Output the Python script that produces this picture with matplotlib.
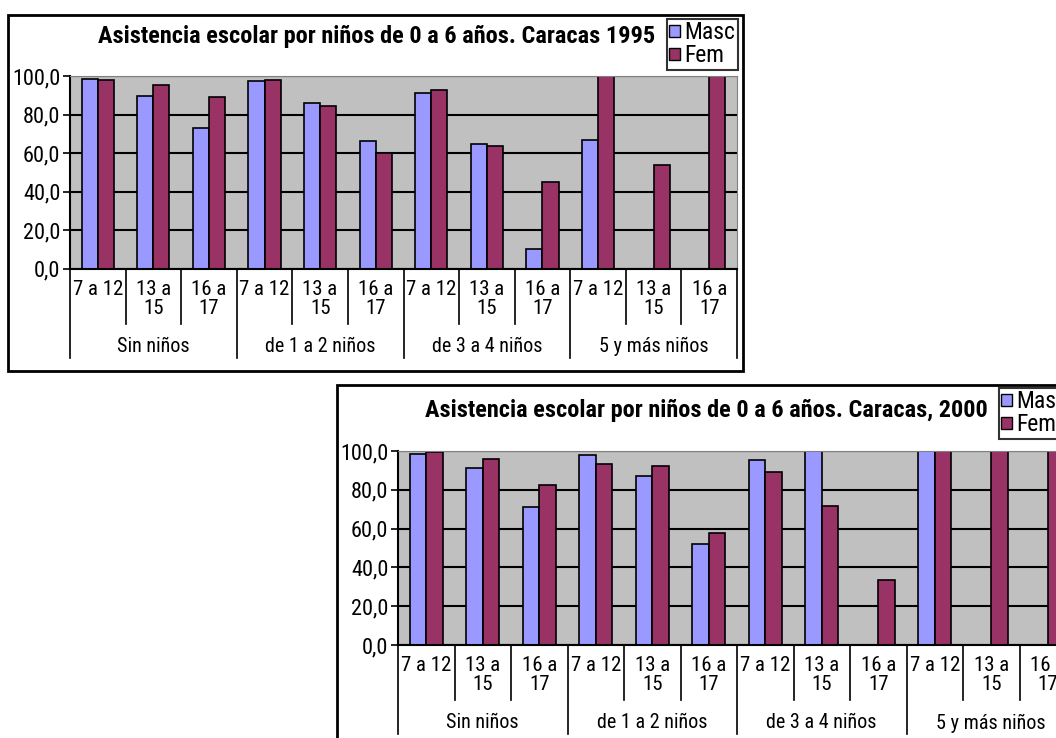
import matplotlib
matplotlib.use('Agg')
import matplotlib.pyplot as plt
import matplotlib.transforms as mtrans
from matplotlib.patches import Rectangle, Patch
import numpy as np

plt.rcParams['font.family'] = ['Roboto Condensed', 'DejaVu Sans']

# ======================================
# Data
# ======================================
edades  = ['7 a 12', '13 a\n15', '16 a\n17']
grupos  = ['Sin niños', 'de 1 a 2 niños', 'de 3 a 4 niños', '5 y más niños']
yticks  = [0, 20, 40, 60, 80, 100]
ylabels = ['0,0', '20,0', '40,0', '60,0', '80,0', '100,0']

masc_1995 = [98.6, 89.8, 73.0, 97.6, 85.8, 66.3, 91.0, 64.7, 10.1, 66.8, 0.0, 0.0]
fem_1995  = [98.1, 95.5, 89.3, 98.1, 84.6, 59.9, 92.7, 63.5, 45.0, 100.0, 54.0, 100.0]

masc_2000 = [98.5, 91.1, 71.1, 97.9, 87.1, 52.2, 95.4, 100.0, 0.0, 100.0, 0.0, 0.0]
fem_2000  = [99.3, 95.9, 82.5, 93.3, 92.4, 57.7, 89.3, 71.8, 33.5, 100.0, 100.0, 100.0]

titulo_1995 = 'Asistencia escolar por niños de 0 a 6 años. Caracas 1995'
titulo_2000 = 'Asistencia escolar por niños de 0 a 6 años. Caracas, 2000'

c_masc = '#9999FF'
c_fem  = '#993366'

W, H = 1056, 738
fig = plt.figure(figsize=(W/100., H/100.), dpi=100)

def fx(x):
    return x/float(W)

def fy(y):
    return 1 - y/float(H)

def chart(l, t, r, b, masc, fem, titulo, frame, title_xy, leg_xy):
    # outer frame
    fl, ft, fr, fb = frame
    fig.patches.append(Rectangle((fx(fl), fy(fb)), fx(fr)-fx(fl), fy(ft)-fy(fb),
                                 transform=fig.transFigure, fill=False,
                                 edgecolor='black', linewidth=2, zorder=0))

    ax = fig.add_axes([fx(l), fy(b), fx(r)-fx(l), fy(t)-fy(b)])
    ax.set_facecolor('#C0C0C0')
    ax.set_axisbelow(True)

    n = len(masc)
    x = np.arange(n)
    w = 0.29
    ax.bar(x - w/2, masc, w, color=c_masc, edgecolor='black', linewidth=1.2)
    ax.bar(x + w/2, fem,  w, color=c_fem,  edgecolor='black', linewidth=1.2)

    ax.set_xlim(-0.5, n - 0.5)
    ax.set_ylim(0, 100)
    ax.set_yticks(yticks)
    ax.set_yticklabels(ylabels, fontsize=16)
    ax.tick_params(axis='y', length=5, width=1.2, pad=2, direction='out')
    ax.set_xticks([])
    ax.yaxis.grid(True, color='black', linewidth=1.5)

    for s in ['top', 'right']:
        ax.spines[s].set_color('#808080')
    for s in ['left', 'bottom']:
        ax.spines[s].set_color('black')
        ax.spines[s].set_linewidth(1.5)

    # category axis (two levels)
    hpx = float(b - t)
    trans = mtrans.blended_transform_factory(ax.transData, ax.transAxes)
    for i in range(n + 1):
        xd = i - 0.5
        if i % 3 == 0:
            y1 = -89/hpx
        else:
            y1 = -55/hpx
        ax.plot([xd, xd], [0, y1], color='black', linewidth=1.2,
                transform=trans, clip_on=False)
    for i in range(n):
        ax.text(i, -11/hpx, edades[i % 3], transform=trans, ha='center', va='top',
                fontsize=15, linespacing=1.0)
    for g, name in enumerate(grupos):
        ax.text(3*g + 1, -78/hpx, name, transform=trans, ha='center', va='center',
                fontsize=14.5)

    fig.text(fx(title_xy[0]), fy(title_xy[1]), titulo, ha='center', va='center',
             fontsize=17.5, fontweight='bold')

    handles = [Patch(facecolor=c_masc, edgecolor='black', label='Masc'),
               Patch(facecolor=c_fem, edgecolor='black', label='Fem')]
    leg = fig.legend(handles=handles, loc='upper left',
                     bbox_to_anchor=(fx(leg_xy[0]), fy(leg_xy[1])),
                     fontsize=17, frameon=True, fancybox=False,
                     handlelength=0.45, handleheight=0.45, handletextpad=0.2,
                     borderpad=0.1, labelspacing=0.0, borderaxespad=0)
    leg.get_frame().set_edgecolor('black')
    leg.get_frame().set_linewidth(1.5)
    return ax

ax1 = chart(70, 76, 737, 268.7, masc_1995, fem_1995, titulo_1995,
            (8, 15, 743, 371), (377, 36), (667, 19))
ax2 = chart(398, 451, 1076, 645, masc_2000, fem_2000, titulo_2000,
            (337, 385, 1075, 760), (706, 410), (999, 388))

fig.savefig('out.png', dpi=100)
